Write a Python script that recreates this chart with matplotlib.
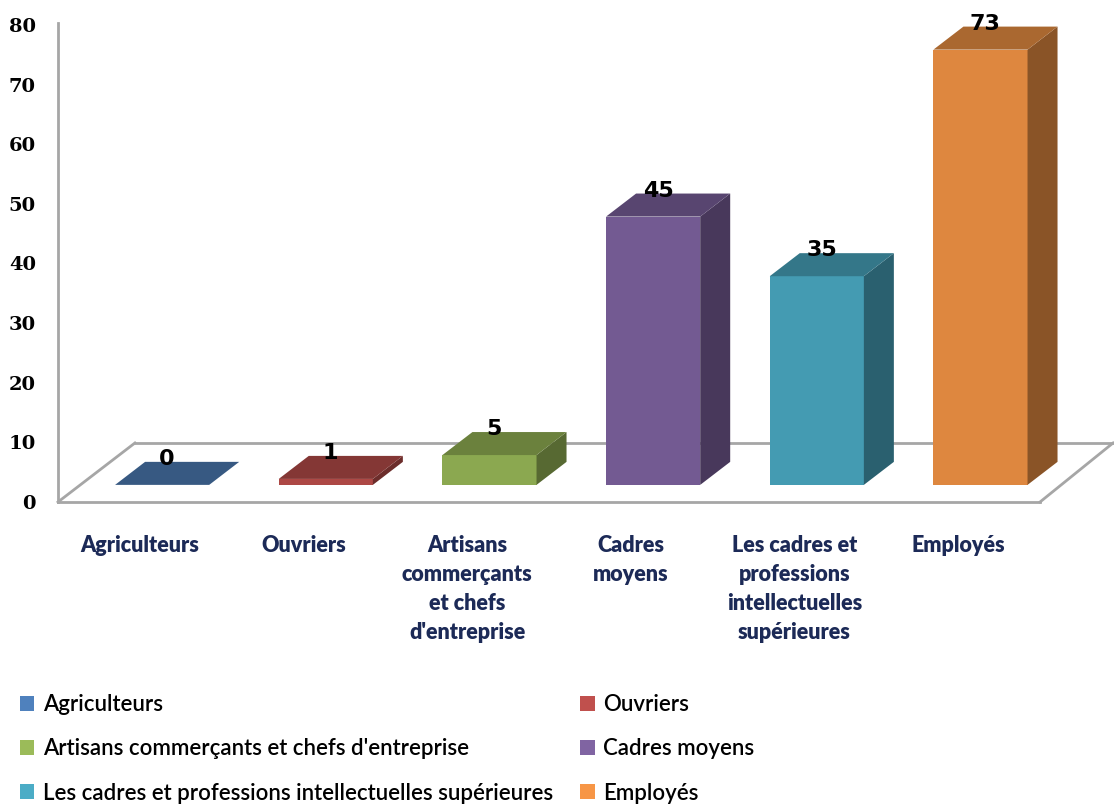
import numpy as np
import matplotlib.pyplot as plt
from matplotlib.patches import Polygon, Patch
from matplotlib.colors import to_rgb

categories = ["Agriculteurs", "Ouvriers", "Artisans commerçants et chefs d'entreprise",
              "Cadres moyens", "Les cadres et professions intellectuelles supérieures",
              "Employés"]
axis_labels = ["Agriculteurs", "Ouvriers", "Artisans\ncommerçants\net chefs\nd'entreprise",
               "Cadres\nmoyens", "Les cadres et\nprofessions\nintellectuelles\nsupérieures",
               "Employés"]
values = [0, 1, 5, 45, 35, 73]
colors = ["#4F81BD", "#C0504D", "#9BBB59", "#8064A2", "#4BACC6", "#F79646"]
yticks = [0, 10, 20, 30, 40, 50, 60, 70, 80]

W, H = 1114, 805
fig = plt.figure(figsize=(W / 100, H / 100), dpi=100)
ax = fig.add_axes([58 / W, 1 - 502 / H, (1040 - 58) / W, (502 - 25) / H])
ax.set_xlim(-0.5, 5.5)
ax.set_ylim(0, 80)
for s in ax.spines.values():
    s.set_visible(False)
ax.set_xticks([])
ax.set_yticks(yticks)
ax.set_yticklabels([str(t) for t in yticks], fontfamily="DejaVu Serif",
                   fontweight="bold", fontsize=14)
ax.tick_params(axis="y", length=0, pad=16)

# oblique depth of the floor (in data units)
DX, DY = 0.47, 9.9
front, back = 0.29, 0.68
grey = "#a6a6a6"
lkw = dict(color=grey, lw=2, clip_on=False, zorder=1)

# vertical axis and floor outline
ax.plot([-0.5, -0.5], [0, 80.4], **lkw)
ax.plot([-0.5, 5.5], [0, 0], **lkw)
ax.plot([-0.5, -0.5 + DX], [0, DY], **lkw)
ax.plot([-0.5 + DX, 5.5 + DX * 0.95], [DY, DY], **lkw)
ax.plot([5.5, 5.5 + DX * 0.95], [0, DY], **lkw)


def shade(c, f):
    return tuple(np.clip(np.array(to_rgb(c)) * f, 0, 1))


bw = 0.575
fx, fy = DX * front, DY * front
ddx, ddy = DX * (back - front), DY * (back - front)
for i, (v, c) in enumerate(zip(values, colors)):
    L = i + fx - bw / 2
    R = i + fx + bw / 2
    y0 = fy
    y1 = fy + v
    # front, right side and top faces
    if v > 0:
        ax.add_patch(Polygon([(L, y0), (R, y0), (R, y1), (L, y1)], closed=True,
                             facecolor=shade(c, 0.9), edgecolor="none",
                             clip_on=False, zorder=3))
        ax.add_patch(Polygon([(R, y0), (R + ddx, y0 + ddy), (R + ddx, y1 + ddy), (R, y1)],
                             closed=True, facecolor=shade(c, 0.56), edgecolor="none",
                             clip_on=False, zorder=3))
    ax.add_patch(Polygon([(L, y1), (R, y1), (R + ddx, y1 + ddy), (L + ddx, y1 + ddy)],
                         closed=True, facecolor=shade(c, 0.69), edgecolor="none",
                         clip_on=False, zorder=3))
    ax.text(i + fx + 0.03, y1 + ddy + 0.5, str(v), ha="center", va="center",
            fontsize=16, fontweight="bold", family="DejaVu Sans", color="black",
            zorder=5, clip_on=False)
    ax.text(i, -5.6, axis_labels[i], ha="center", va="top", fontsize=15.5,
            fontweight="heavy", family="Lato", color="#1c2a57", linespacing=1.47,
            clip_on=False)

# legend, filled row by row
order = [0, 2, 4, 1, 3, 5]
handles = [Patch(facecolor=colors[k], edgecolor="none") for k in order]
labels = [categories[k] for k in order]
fig.legend(handles, labels, loc="upper left", bbox_to_anchor=(20 / W, 1 - 694 / H),
           ncol=2, frameon=False,
           prop={"family": "Lato", "size": 16, "weight": "semibold"},
           handlelength=0.65, handleheight=0.65, handletextpad=0.4,
           columnspacing=1.2, labelspacing=1.05, borderpad=0, borderaxespad=0)

fig.savefig("out.png", dpi=100)
